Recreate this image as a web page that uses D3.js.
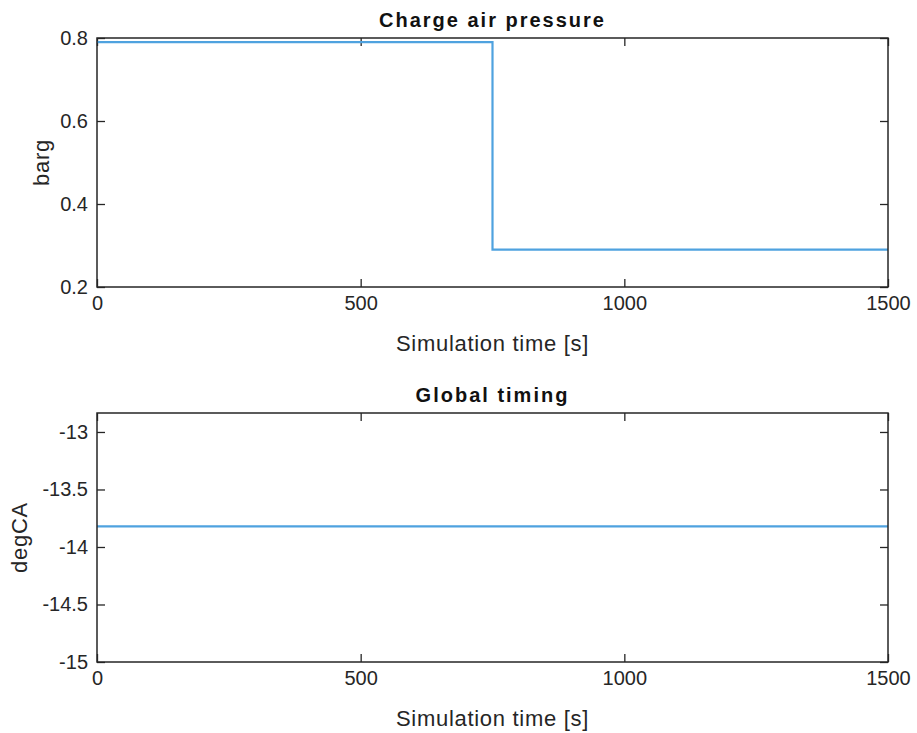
<!DOCTYPE html>
<html>
<head>
<meta charset="utf-8">
<script src="https://cdn.jsdelivr.net/npm/d3@7"></script>
<style>
  body { margin: 0; background: #fff; }
  svg { display: block; font-family: "Liberation Sans", Arial, sans-serif; }
  .tick text { fill: #262626; }
</style>
</head>
<body>
<svg id="chart" width="917" height="733"></svg>
<script>
// chart data
const xTicks = [0, 500, 1000, 1500]

const pressureTime = [0, 750, 1500]
const pressureValue = [0.79, 0.29, 0.29]
const pressureTicks = [0.2, 0.4, 0.6, 0.8]

const timingTime = [0, 1500]
const timingValue = [-13.82, -13.82]
const timingTicks = [-15, -14.5, -14, -13.5, -13]

const panels = [
  {
    title: 'Charge air pressure', ylabel: 'barg',
    time: pressureTime, value: pressureValue, yDomain: [0.2, 0.8], yTicks: pressureTicks,
    top: 38, ylabelX: 42
  },
  {
    title: 'Global timing', ylabel: 'degCA',
    time: timingTime, value: timingValue, yDomain: [-15, -12.835], yTicks: timingTicks,
    top: 413, ylabelX: 20
  }
]

const left = 97, right = 888, plotH = 249
const ink = '#262626'
const svg = d3.select('#chart')
const plain = (d) => String(d) // keep ascii hyphen for negatives, like matlab

panels.forEach((p) => {
  const g = svg.append('g').attr('transform', `translate(0, ${p.top})`)
  const x = d3.scaleLinear().domain([0, 1500]).range([left, right])
  const y = d3.scaleLinear().domain(p.yDomain).range([plotH, 0])

  // axes with inward ticks on all four sides
  const styleAxis = (sel) => {
    sel.select('.domain').remove()
    sel.selectAll('.tick line').attr('stroke', ink).attr('stroke-width', 1.3)
    sel.selectAll('.tick text').style('font-size', '20px')
  }
  g.append('g')
    .attr('transform', `translate(0, ${plotH})`)
    .call(d3.axisBottom(x).tickValues(xTicks).tickFormat(plain).tickSize(-8).tickPadding(9))
    .call(styleAxis)
  g.append('g')
    .call(d3.axisTop(x).tickValues(xTicks).tickSize(-8).tickFormat(''))
    .call(styleAxis)
  g.append('g')
    .attr('transform', `translate(${left}, 0)`)
    .call(d3.axisLeft(y).tickValues(p.yTicks).tickFormat(plain).tickSize(-8).tickPadding(9))
    .call(styleAxis)
  g.append('g')
    .attr('transform', `translate(${right}, 0)`)
    .call(d3.axisRight(y).tickValues(p.yTicks).tickSize(-8).tickFormat(''))
    .call(styleAxis)

  // the data line
  const line = d3.line()
    .x((d) => x(d[0]))
    .y((d) => y(d[1]))
    .curve(d3.curveStepAfter)
  g.append('path')
    .datum(p.time.map((t, i) => [t, p.value[i]]))
    .attr('d', line)
    .attr('fill', 'none')
    .attr('stroke', '#4fa2df')
    .attr('stroke-width', 2.2)

  // box
  g.append('rect')
    .attr('x', left).attr('y', 0)
    .attr('width', right - left).attr('height', plotH)
    .attr('fill', 'none').attr('stroke', ink).attr('stroke-width', 1.5)

  // labels
  g.append('text')
    .attr('x', (left + right) / 2).attr('y', -11)
    .attr('text-anchor', 'middle')
    .style('font-size', '20px').style('font-weight', 'bold')
    .style('letter-spacing', '2px')
    .attr('fill', '#111')
    .text(p.title)
  g.append('text')
    .attr('x', (left + right) / 2).attr('y', plotH + 64)
    .attr('text-anchor', 'middle')
    .style('font-size', '22px')
    .style('letter-spacing', '0.7px')
    .attr('fill', ink)
    .text('Simulation time [s]')
  g.append('text')
    .attr('transform', `translate(${p.ylabelX + 7}, ${plotH / 2}) rotate(-90)`)
    .attr('text-anchor', 'middle')
    .style('font-size', '22px')
    .style('letter-spacing', '0.7px')
    .attr('fill', ink)
    .text(p.ylabel)
})
</script>
</body>
</html>
